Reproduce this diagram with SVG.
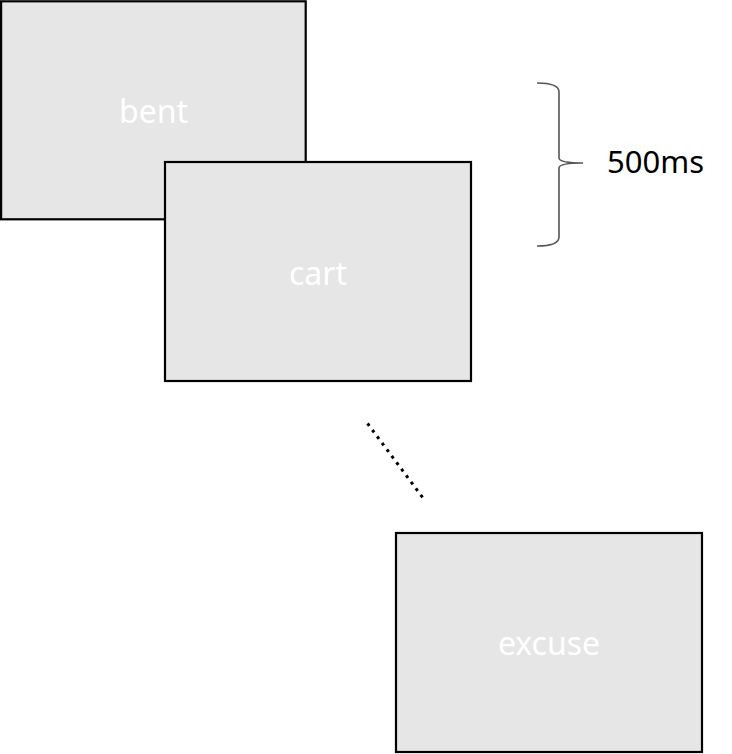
<svg xmlns="http://www.w3.org/2000/svg" width="732" height="754" viewBox="0 0 732 754">
<style>
.box{fill:#e6e6e6;stroke:#000;stroke-width:2.2}
.lbl{font-family:"Noto Sans","Open Sans",sans-serif;font-size:32px;fill:#fff;text-anchor:middle}
.note{font-family:"Noto Sans","Open Sans",sans-serif;font-size:31px;fill:#000}
</style>
<rect width="732" height="754" fill="#fff"/>
<g id="node-bent">
<rect class="box" x="1.1" y="1.3" width="304.6" height="218"/>
<text class="lbl" x="153.5" y="123">bent</text>
</g>
<g id="node-cart">
<rect class="box" x="165" y="162" width="306" height="219"/>
<text class="lbl" x="318" y="285">cart</text>
</g>
<g id="node-excuse">
<rect class="box" x="396" y="533" width="306" height="219"/>
<text class="lbl" x="549" y="655">excuse</text>
</g>
<g id="connectors">
<line x1="367.5" y1="423.5" x2="423" y2="498" stroke="#000" stroke-width="3" stroke-dasharray="3 5.1"/>
<path d="M537,83 Q559,83 559,92 L559,158 Q559,163 583,163 Q559,163 559,168 L559,237 Q559,246 537,246" fill="none" stroke="#555" stroke-width="1.6"/>
</g>
<g id="label-500ms">
<text class="note" x="607" y="173">500ms</text>
</g>
</svg>
